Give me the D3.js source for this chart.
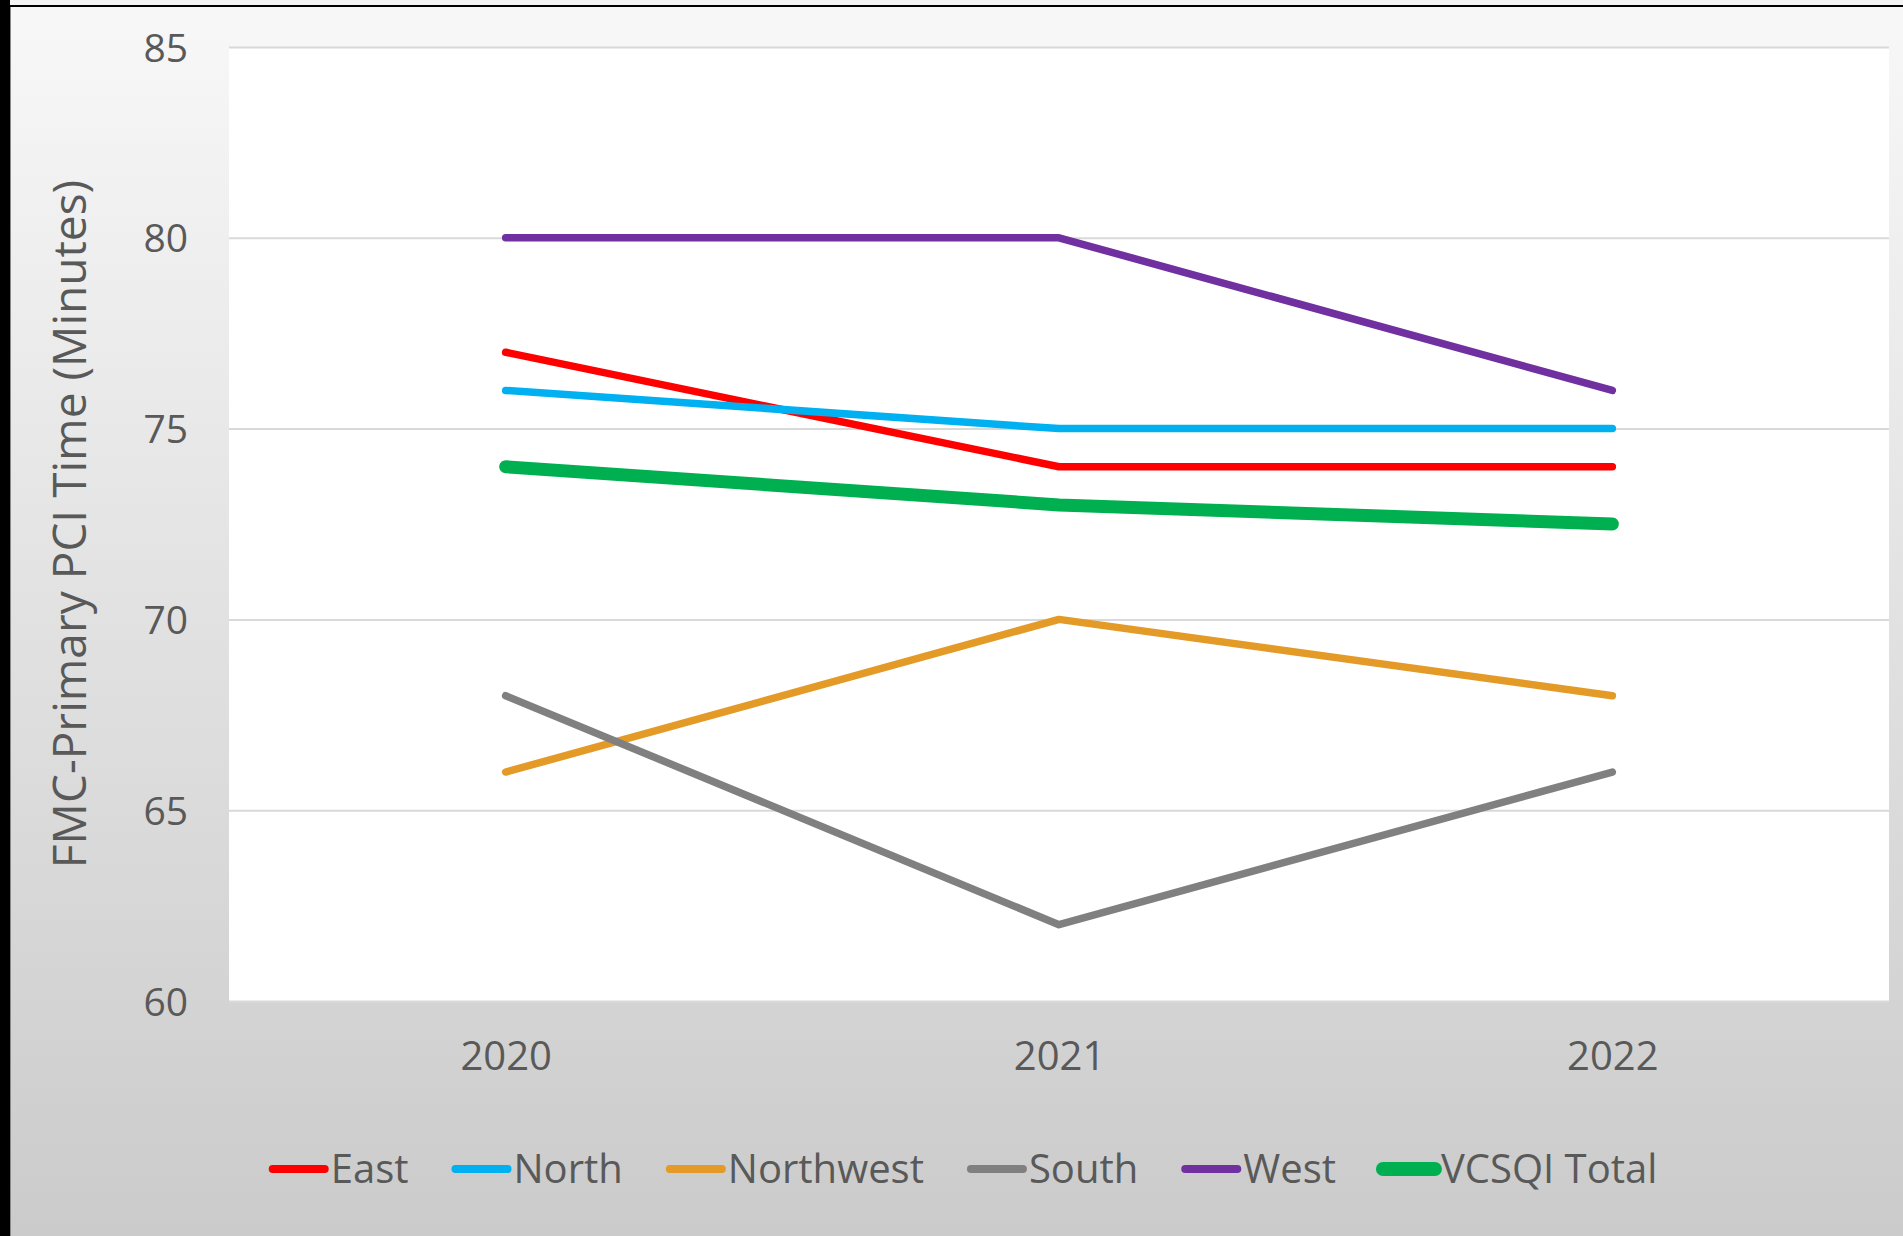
<!DOCTYPE html>
<html lang="en">
<head>
<meta charset="UTF-8">
<title>FMC-Primary PCI Time</title>
<script src="https://cdnjs.cloudflare.com/ajax/libs/d3/7.8.5/d3.min.js"></script>
<style>
  html, body { margin: 0; padding: 0; background: #fff; }
  svg { display: block; }
  text { font-family: "Open Sans", "Noto Sans", sans-serif; fill: #595959; }
</style>
</head>
<body>
<div id="content"></div>
<script>
// data
const years = ['2020', '2021', '2022'];
const seriesNames = ['East', 'North', 'Northwest', 'South', 'West', 'VCSQI Total'];
const seriesColors = ['#ff0000', '#00b0f0', '#e39a27', '#808080', '#7030a0', '#00b050'];
const east = [77, 74, 74];
const north = [76, 75, 75];
const northwest = [66, 70, 68];
const south = [68, 62, 66];
const west = [80, 80, 76];
const vcsqiTotal = [74, 73, 72.5];
const yTicks = [60, 65, 70, 75, 80, 85];
const yTitle = 'FMC-Primary PCI Time (Minutes)';

const seriesValues = [east, north, northwest, south, west, vcsqiTotal];

const width = 1903;
const height = 1236;
const plot = { left: 229, right: 1889, top: 47, bottom: 1001 };

const svg = d3.select('#content').append('svg')
    .attr('width', width)
    .attr('height', height);

//-Background
const defs = svg.append('defs');
const grad = defs.append('linearGradient')
    .attr('id', 'bg')
    .attr('x1', 0).attr('y1', 0).attr('x2', 0).attr('y2', 1);
grad.append('stop').attr('offset', '0%').attr('stop-color', '#f8f8f8');
grad.append('stop').attr('offset', '100%').attr('stop-color', '#cbcbcb');

svg.append('rect')
    .attr('width', width).attr('height', height)
    .attr('fill', 'url(#bg)');
svg.append('rect')
    .attr('x', 0).attr('y', 0).attr('width', width).attr('height', 5)
    .attr('fill', '#f4f4f4');
svg.append('rect')
    .attr('x', 0).attr('y', 5).attr('width', width).attr('height', 2)
    .attr('fill', '#000');
svg.append('rect')
    .attr('x', 0).attr('y', 0).attr('width', 10).attr('height', height)
    .attr('fill', '#000');
svg.append('rect')
    .attr('x', 10).attr('y', 7).attr('width', 1).attr('height', height)
    .attr('fill', '#8a8a8a');

//-Scales
const xScale = d3.scalePoint()
    .domain(years)
    .range([plot.left, plot.right])
    .padding(0.5);
const yScale = d3.scaleLinear()
    .domain([60, 85])
    .range([plot.bottom, plot.top]);

//-Plot area
svg.append('rect')
    .attr('x', plot.left).attr('y', plot.top)
    .attr('width', plot.right - plot.left)
    .attr('height', plot.bottom - plot.top)
    .attr('fill', '#fff');

//--Grid
const yAxis = d3.axisLeft(yScale)
    .tickValues(yTicks)
    .tickSize(-(plot.right - plot.left))
    .tickPadding(41)
    .tickFormat(d3.format('d'));
const gy = svg.append('g')
    .attr('transform', `translate(${plot.left},0)`)
    .call(yAxis);
gy.select('.domain').remove();
gy.selectAll('.tick line').attr('stroke', '#d9d9d9').attr('stroke-width', 2);
gy.selectAll('.tick text')
    .attr('font-family', null)
    .style('font-size', '39px')
    .attr('dy', '0.36em');

//--Axis X
const xAxis = d3.axisBottom(xScale).tickSize(0).tickPadding(0);
const gx = svg.append('g')
    .attr('transform', `translate(0,${plot.bottom})`)
    .call(xAxis);
gx.select('.domain').remove();
gx.selectAll('.tick text')
    .attr('font-family', null)
    .attr('y', 69)
    .attr('dy', 0)
    .style('font-size', '40px');

//--Y title
svg.append('text')
    .text(yTitle)
    .attr('transform', `translate(86,${(plot.top + plot.bottom) / 2}) rotate(-90)`)
    .attr('text-anchor', 'middle')
    .style('font-size', '46px');

//-Lines
const line = d3.line()
    .x((d, i) => xScale(years[i]))
    .y(d => yScale(d));

seriesValues.forEach((vals, i) => {
    svg.append('path')
        .datum(vals)
        .attr('d', line)
        .attr('fill', 'none')
        .attr('stroke', seriesColors[i])
        .attr('stroke-width', i === 5 ? 13 : 7.5)
        .attr('stroke-linecap', 'round')
        .attr('stroke-linejoin', 'round');
});

//-Legend
const legend = svg.append('g').attr('id', 'legend');
const legendY = 1169;
const items = seriesNames.map((name, i) => {
    const g = legend.append('g');
    g.append('line')
        .attr('x1', 4).attr('x2', 56)
        .attr('y1', 0).attr('y2', 0)
        .attr('stroke', seriesColors[i])
        .attr('stroke-width', i === 5 ? 14 : 8)
        .attr('stroke-linecap', 'round');
    const t = g.append('text')
        .text(name)
        .attr('x', 62)
        .attr('y', 0)
        .attr('dy', '0.36em')
        .style('font-size', '40px');
    return { g, w: 62 + t.node().getComputedTextLength() };
});
const gap = 43;
const total = d3.sum(items, d => d.w) + gap * (items.length - 1);
let lx = 963 - total / 2;
items.forEach(d => {
    d.g.attr('transform', `translate(${lx},${legendY})`);
    lx += d.w + gap;
});
</script>
</body>
</html>
